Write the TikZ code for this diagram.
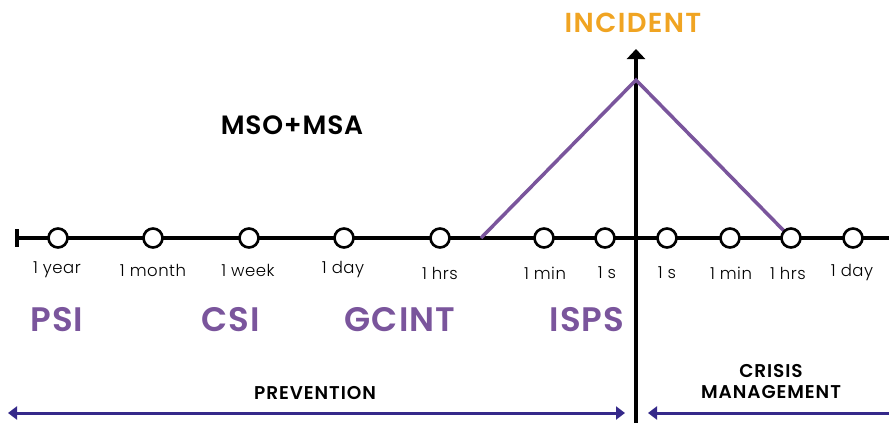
\documentclass[tikz,border=0pt]{standalone}
\usepackage{fontspec}
\setmainfont{Poppins}
\newfontfamily\lightf[LetterSpace=3]{Poppins Light}
\newfontfamily\boldsp[LetterSpace=3]{Poppins SemiBold}
\newfontfamily\boldsq[LetterSpace=5]{Poppins SemiBold}
\usetikzlibrary{arrows.meta}
\definecolor{purp}{HTML}{7A559C}
\definecolor{orng}{HTML}{F0A422}
\definecolor{navy}{HTML}{35298A}
\begin{document}
\begin{tikzpicture}[x=1pt,y=-1pt,
  dot/.style={circle,draw=black,fill=white,line width=2.6pt,minimum size=19pt,inner sep=0pt},
  tlab/.style={font=\lightf\fontsize{16.5}{16.5}\selectfont,inner sep=0pt},
  big/.style={font=\boldsp\fontsize{34}{34}\selectfont,text=purp,inner sep=0pt},
  captxt/.style={font=\boldsq\fontsize{18.5}{21}\selectfont,inner sep=0pt,align=center}]
\useasboundingbox (0,0) rectangle (889,423);
% timeline
\coordinate (L) at (17,238);
\coordinate (R) at (889,238);
\draw[line width=3.2pt] (L) -- (R);
\draw[line width=3.2pt] (17,229) -- (17,247);
% vertical axis
\coordinate (vb) at (636,423);
\coordinate (vt) at (636,49);
\draw[line width=4.5pt,-{Triangle[width=18pt,length=10pt]}] (vb) -- (vt);
% purple triangle
\coordinate (p1) at (481,238);
\coordinate (p2) at (636,80);
\coordinate (p3) at (788,235);
\draw[purp,line width=3.5pt] (p1) -- (p2) -- (p3);
% dots
\foreach \x/\n in {58/a,153/b,249/c,344/d,440/e,544/f,605/g,667/h,730/i,791/j,853/k}
  \node[dot] (\n) at (\x,238) {};
% labels
\node[tlab] (la) at (57,270) {1 year};
\node[tlab] (lb) at (153,270) {1 month};
\node[tlab] (lc) at (248,270) {1 week};
\node[tlab] (ld) at (343,270) {1 day};
\node[tlab] (le) at (440,273) {1 hrs};
\node[tlab] (lf) at (545,273) {1 min};
\node[tlab] (lg) at (607,273) {1 s};
\node[tlab] (lh) at (667,273) {1 s};
\node[tlab] (li) at (731,273) {1 min};
\node[tlab] (lj) at (788,273) {1 hrs};
\node[tlab] (lk) at (852,273) {1 day};
% big labels
\node[big] (psi) at (57,320) {PSI};
\node[big] (csi) at (231,320) {CSI};
\node[big] (gcint) at (400,320) {GCINT};
\node[big] (isps) at (587,320) {ISPS};
\node[font=\boldsp\fontsize{26.5}{26.5}\selectfont,inner sep=0pt] (mso) at (292,125) {MSO+MSA};
\node[font=\boldsq\fontsize{27.5}{27.5}\selectfont,text=orng,inner sep=0pt] (inc) at (633,23) {INCIDENT};
% bottom
\node[captxt] (prev) at (315,393) {PREVENTION};
\node[captxt] (crisis) at (771,382) {CRISIS\\MANAGEMENT};
\coordinate (a1) at (8,413);
\coordinate (a2) at (625,413);
\coordinate (a3) at (648,413);
\coordinate (a4) at (889,413);
\draw[navy,line width=3pt,{Triangle[width=13pt,length=9pt]}-{Triangle[width=13pt,length=9pt]}] (a1) -- (a2);
\draw[navy,line width=3pt,{Triangle[width=13pt,length=9pt]}-] (a3) -- (a4);
\end{tikzpicture}
\end{document}
